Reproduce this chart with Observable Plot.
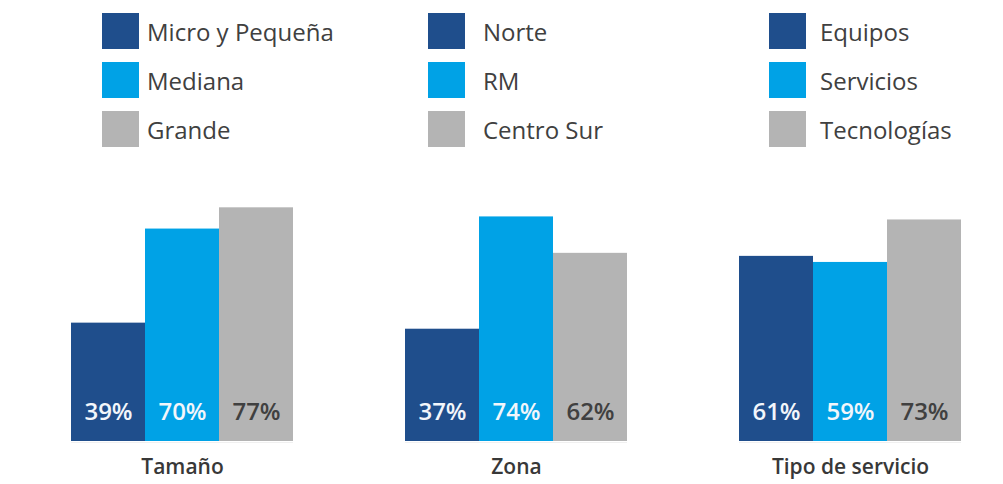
<!DOCTYPE html>
<html>
<head>
<meta charset="utf-8">
<script src="https://cdn.jsdelivr.net/npm/d3@7"></script>
<script src="https://cdn.jsdelivr.net/npm/@observablehq/plot@0.6"></script>
<style>
  html, body { margin: 0; padding: 0; background: #fff; }
  #wrap { width: 1003px; font-family: "Open Sans", sans-serif; }
  #legend { position: relative; width: 1003px; height: 170px; }
  .sw { position: absolute; width: 37px; height: 36px; }
  .lt { position: absolute; font-size: 24px; line-height: 36px; color: #404040; white-space: nowrap; }
</style>
</head>
<body>
<div id="wrap">
  <div id="legend"></div>
  <div id="chart"></div>
</div>
<script>
const groups = ["Tamaño", "Zona", "Tipo de servicio"];
const seriesLabels = [
  ["Micro y Pequeña", "Mediana", "Grande"],
  ["Norte", "RM", "Centro Sur"],
  ["Equipos", "Servicios", "Tecnologías"]
];
const values = [
  [39, 70, 77],
  [37, 74, 62],
  [61, 59, 73]
];
const colors = ["#1f4e8c", "#00a2e6", "#b4b4b4"];

// legend (HTML, above the SVG)
const swatchX = [102, 428, 769];
const textX = [147, 483, 820];
const rowY = [13, 62, 111];
const legend = document.getElementById("legend");
seriesLabels.forEach((labels, g) => {
  labels.forEach((lab, i) => {
    const sw = document.createElement("div");
    sw.className = "sw";
    sw.style.left = swatchX[g] + "px";
    sw.style.top = rowY[i] + "px";
    sw.style.background = colors[i];
    const t = document.createElement("div");
    t.className = "lt";
    t.style.left = textX[g] + "px";
    t.style.top = (rowY[i] + 1) + "px";
    t.textContent = lab;
    legend.appendChild(sw);
    legend.appendChild(t);
  });
});

const data = [];
groups.forEach((g, gi) => {
  values[gi].forEach((v, i) => {
    data.push({group: g, idx: i, label: seriesLabels[gi][i], value: v});
  });
});

const chart = Plot.plot({
  width: 1003,
  height: 314,
  marginLeft: 70,
  marginRight: 40,
  marginTop: 10,
  marginBottom: 43,
  style: {fontFamily: "Open Sans, sans-serif", background: "white"},
  fx: {domain: groups, paddingInner: 0.334, paddingOuter: 0, label: null},
  x: {domain: [0, 1, 2], padding: 0, axis: null},
  y: {domain: [0, 86], axis: null},
  color: {type: "ordinal", domain: [0, 1, 2], range: colors},
  marks: [
    Plot.ruleY([0], {stroke: "#f0f0f0", strokeWidth: 1, dy: 1}),
    Plot.barY(data, {fx: "group", x: "idx", y: "value", fill: "idx"}),
    Plot.text(data, {
      fx: "group", x: "idx", y: 0, text: d => d.value + "%",
      dy: -29, fontSize: 24, fontWeight: 600,
      fill: d => d.idx < 2 ? "#f2f6fb" : "#404040"
    }),
    Plot.axisFx({anchor: "bottom", tickSize: 0, tickPadding: 18, fontSize: 21, fontWeight: 600, fill: "#383838", label: null})
  ]
});
document.getElementById("chart").appendChild(chart);
</script>
</body>
</html>
